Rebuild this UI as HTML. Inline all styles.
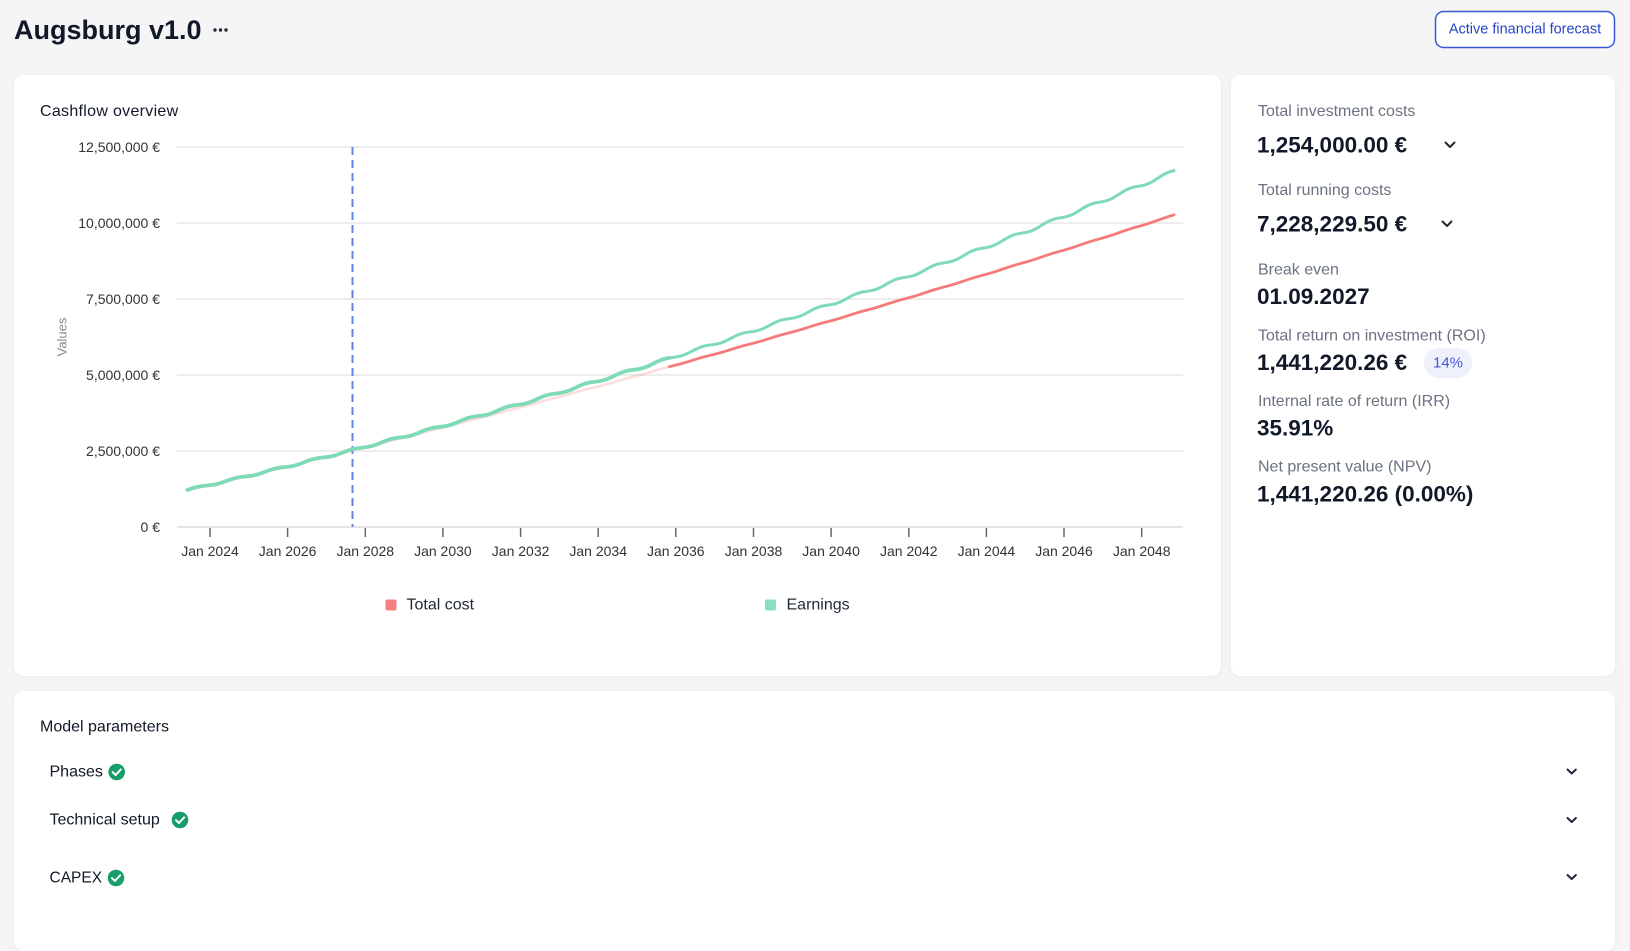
<!DOCTYPE html>
<html>
<head>
<meta charset="utf-8">
<style>
  html,body{margin:0;padding:0;}
  body{width:1630px;height:906px;overflow:hidden;background:#f5f5f6;position:relative;font-family:"Liberation Sans",Arial,sans-serif;}
  .card{position:absolute;background:#fff;border-radius:10px;box-shadow:0 1px 6px rgba(0,0,0,0.05);}
  svg{position:absolute;left:0;top:0;}
  text{font-family:"Liberation Sans",Arial,sans-serif;}
</style>
</head>
<body>
<div class="card" style="left:14px;top:75px;width:1207px;height:601px;"></div>
<div class="card" style="left:1231px;top:75px;width:384px;height:601px;"></div>
<div class="card" style="left:14px;top:691px;width:1601px;height:260px;"></div>

<svg width="1630" height="906" viewBox="0 0 1630 906" xmlns="http://www.w3.org/2000/svg">
  <!-- Header -->
  <text x="14" y="39" font-size="27" font-weight="bold" fill="#111827">Augsburg v1.0</text>
  <circle cx="215" cy="30" r="1.7" fill="#1f2937"/>
  <circle cx="220.5" cy="30" r="1.7" fill="#1f2937"/>
  <circle cx="226" cy="30" r="1.7" fill="#1f2937"/>

  <rect x="1435.5" y="11.5" width="179" height="36" rx="8" fill="#fff" stroke="#3856d6" stroke-width="1.5"/>
  <text x="1525" y="29.5" font-size="14.5" fill="#2743c4" text-anchor="middle" dominant-baseline="central">Active financial forecast</text>

  <!-- Chart title -->
  <text x="40" y="111.5" font-size="16" fill="#111827" letter-spacing="0.3" dominant-baseline="central">Cashflow overview</text>

  <!-- Gridlines -->
  <g stroke="#e7e7e7" stroke-width="1.5">
    <line x1="177" y1="147" x2="1183" y2="147"/>
    <line x1="177" y1="223" x2="1183" y2="223"/>
    <line x1="177" y1="299" x2="1183" y2="299"/>
    <line x1="177" y1="375" x2="1183" y2="375"/>
    <line x1="177" y1="451" x2="1183" y2="451"/>
  </g>
  <line x1="177" y1="527" x2="1183" y2="527" stroke="#e4e4e4" stroke-width="2"/>

  <!-- Y labels -->
  <g font-size="14" fill="#333" text-anchor="end" dominant-baseline="central">
    <text x="160" y="147">12,500,000 €</text>
    <text x="160" y="223">10,000,000 €</text>
    <text x="160" y="299">7,500,000 €</text>
    <text x="160" y="375">5,000,000 €</text>
    <text x="160" y="451">2,500,000 €</text>
    <text x="160" y="527">0 €</text>
  </g>
  <text x="0" y="0" font-size="13" fill="#888" text-anchor="middle" dominant-baseline="central" transform="translate(62,337) rotate(-90)">Values</text>

  <!-- X ticks -->
  <g stroke="#666" stroke-width="1.5">
    <line x1="210" y1="528" x2="210" y2="537"/>
    <line x1="287.6" y1="528" x2="287.6" y2="537"/>
    <line x1="365.3" y1="528" x2="365.3" y2="537"/>
    <line x1="442.9" y1="528" x2="442.9" y2="537"/>
    <line x1="520.6" y1="528" x2="520.6" y2="537"/>
    <line x1="598.2" y1="528" x2="598.2" y2="537"/>
    <line x1="675.8" y1="528" x2="675.8" y2="537"/>
    <line x1="753.5" y1="528" x2="753.5" y2="537"/>
    <line x1="831.1" y1="528" x2="831.1" y2="537"/>
    <line x1="908.8" y1="528" x2="908.8" y2="537"/>
    <line x1="986.4" y1="528" x2="986.4" y2="537"/>
    <line x1="1064" y1="528" x2="1064" y2="537"/>
    <line x1="1141.7" y1="528" x2="1141.7" y2="537"/>
  </g>
  <g font-size="14" fill="#333" text-anchor="middle" dominant-baseline="central">
    <text x="210" y="551">Jan 2024</text>
    <text x="287.6" y="551">Jan 2026</text>
    <text x="365.3" y="551">Jan 2028</text>
    <text x="442.9" y="551">Jan 2030</text>
    <text x="520.6" y="551">Jan 2032</text>
    <text x="598.2" y="551">Jan 2034</text>
    <text x="675.8" y="551">Jan 2036</text>
    <text x="753.5" y="551">Jan 2038</text>
    <text x="831.1" y="551">Jan 2040</text>
    <text x="908.8" y="551">Jan 2042</text>
    <text x="986.4" y="551">Jan 2044</text>
    <text x="1064" y="551">Jan 2046</text>
    <text x="1141.7" y="551">Jan 2048</text>
  </g>

  <!-- Break-even dashed line -->
  <line x1="352.5" y1="147" x2="352.5" y2="527" stroke="#6382ef" stroke-width="2" stroke-dasharray="8 5"/>

  <!-- Series -->
  <path id="redFaint" fill="none" stroke="#f57a7a" stroke-opacity="0.25" stroke-width="2.6" stroke-linejoin="round" stroke-linecap="round"
    d="M187.4,490.5 L265,472 L342.6,452.9 L420.3,433.3 L497.9,413.2 L575.6,392.5 L653.2,371.3 L669.4,367.4"/>
  <path id="greenEarly" fill="none" stroke="#7fdbb6" stroke-width="3.8" stroke-linejoin="round" stroke-linecap="round"
    d="M187.4,489.9 L226.2,481 L265,471.9 L303.8,462.4 L342.6,452.6 L381.5,442.5 L420.3,432.2 L459.1,421.5 L497.9,410.5 L536.7,399.2 L575.6,387.7 L614.4,375.8 L653.2,363.6 L669.4,358.5"/>
  <path id="greenLate" fill="none" stroke="#7fdbb6" stroke-width="3" stroke-linejoin="round" stroke-linecap="round"
    d="M669.4,358.5 L692,351.2 L730.8,338.4 L769.7,325.3 L808.5,311.9 L847.3,298.3 L886.1,284.3 L924.9,270.1 L963.8,255.5 L1002.6,240.6 L1041.4,225.5 L1080.2,210 L1119,194.2 L1157.9,178.2 L1174.2,171.4"/>
  <path id="redSolid" fill="none" stroke="#f57a7a" stroke-width="2.8" stroke-linejoin="round" stroke-linecap="round"
    d="M669.4,367.4 L730.8,349.5 L808.5,327.2 L886.1,304.4 L963.8,281 L1041.4,257.1 L1119,232.7 L1174.2,215"/>

  <!-- Legend -->
  <rect x="385.5" y="599.5" width="11" height="11" rx="2" fill="#f47f7f"/>
  <text x="406.5" y="605" font-size="16" fill="#1f2937" dominant-baseline="central">Total cost</text>
  <rect x="765" y="599.5" width="11" height="11" rx="2" fill="#86e0bd"/>
  <text x="786.5" y="605" font-size="16" fill="#1f2937" dominant-baseline="central">Earnings</text>

  <!-- Right panel -->
  <g font-size="16" fill="#6b7280" dominant-baseline="central">
    <text x="1258" y="111.5">Total investment costs</text>
    <text x="1258" y="190.5">Total running costs</text>
    <text x="1258" y="270">Break even</text>
    <text x="1258" y="336">Total return on investment (ROI)</text>
    <text x="1258" y="401.5">Internal rate of return (IRR)</text>
    <text x="1258" y="467">Net present value (NPV)</text>
  </g>
  <g font-size="22.5" font-weight="bold" fill="#111827" dominant-baseline="central">
    <text x="1257" y="145">1,254,000.00 €</text>
    <text x="1257" y="224">7,228,229.50 €</text>
    <text x="1257" y="296.5">01.09.2027</text>
    <text x="1257" y="362.5">1,441,220.26 €</text>
    <text x="1257" y="428">35.91%</text>
    <text x="1257" y="494">1,441,220.26 (0.00%)</text>
  </g>
  <g fill="none" stroke="#1f2937" stroke-width="2" stroke-linecap="round" stroke-linejoin="round">
    <polyline points="1445.5,142.5 1450,147 1454.5,142.5"/>
    <polyline points="1442.5,221.5 1447,226 1451.5,221.5"/>
  </g>
  <rect x="1424" y="348" width="48" height="30" rx="15" fill="#eef0fb"/>
  <text x="1448" y="363" font-size="15" fill="#4458d8" text-anchor="middle" dominant-baseline="central">14%</text>

  <!-- Model parameters -->
  <text x="40" y="727" font-size="16" fill="#111827" dominant-baseline="central">Model parameters</text>
  <g font-size="16" fill="#111827" dominant-baseline="central">
    <text x="49.5" y="772">Phases</text>
    <text x="49.5" y="820">Technical setup</text>
    <text x="49.5" y="878" font-size="15.5">CAPEX</text>
  </g>
  <g>
    <circle cx="116.7" cy="772" r="8.3" fill="#179d68"/>
    <polyline points="112.7,772.2 115.6,775 120.8,769.4" fill="none" stroke="#fff" stroke-width="2" stroke-linecap="round" stroke-linejoin="round"/>
    <circle cx="180" cy="820" r="8.3" fill="#179d68"/>
    <polyline points="176,820.2 178.9,823 184.1,817.4" fill="none" stroke="#fff" stroke-width="2" stroke-linecap="round" stroke-linejoin="round"/>
    <circle cx="116" cy="878" r="8.3" fill="#179d68"/>
    <polyline points="112,878.2 114.9,881 120.1,875.4" fill="none" stroke="#fff" stroke-width="2" stroke-linecap="round" stroke-linejoin="round"/>
  </g>
  <g fill="none" stroke="#1f2937" stroke-width="2" stroke-linecap="round" stroke-linejoin="round">
    <polyline points="1567.5,769.5 1571.7,773.5 1575.9,769.5"/>
    <polyline points="1567.5,818 1571.7,822 1575.9,818"/>
    <polyline points="1567.5,875 1571.7,879 1575.9,875"/>
  </g>
</svg>

<script>
(function(){
  function gen(a,b,c,k,m0,m1){
    var d='';
    for(var m=m0;m<=m1;m++){
      var t=m/12, s=b+2*c*t;
      var v=a+b*t+c*t*t - s*k/(2*Math.PI)*Math.sin(2*Math.PI*(t-0.5));
      var x=210+(m-7)*3.235, y=527-30.4*v;
      d+=(m===m0?'M':'L')+x.toFixed(2)+','+y.toFixed(2)+' ';
    }
    return d;
  }
  var split=149, end=305;
  document.getElementById('redFaint').setAttribute('d',gen(1.2,0.3003,0.002214,0.12,0,split));
  document.getElementById('redSolid').setAttribute('d',gen(1.2,0.3003,0.002214,0.12,split,end));
  document.getElementById('greenEarly').setAttribute('d',gen(1.22,0.2871,0.004923,0.6,0,split));
  document.getElementById('greenLate').setAttribute('d',gen(1.22,0.2871,0.004923,0.6,split,end));
})();
</script>
</body>
</html>
